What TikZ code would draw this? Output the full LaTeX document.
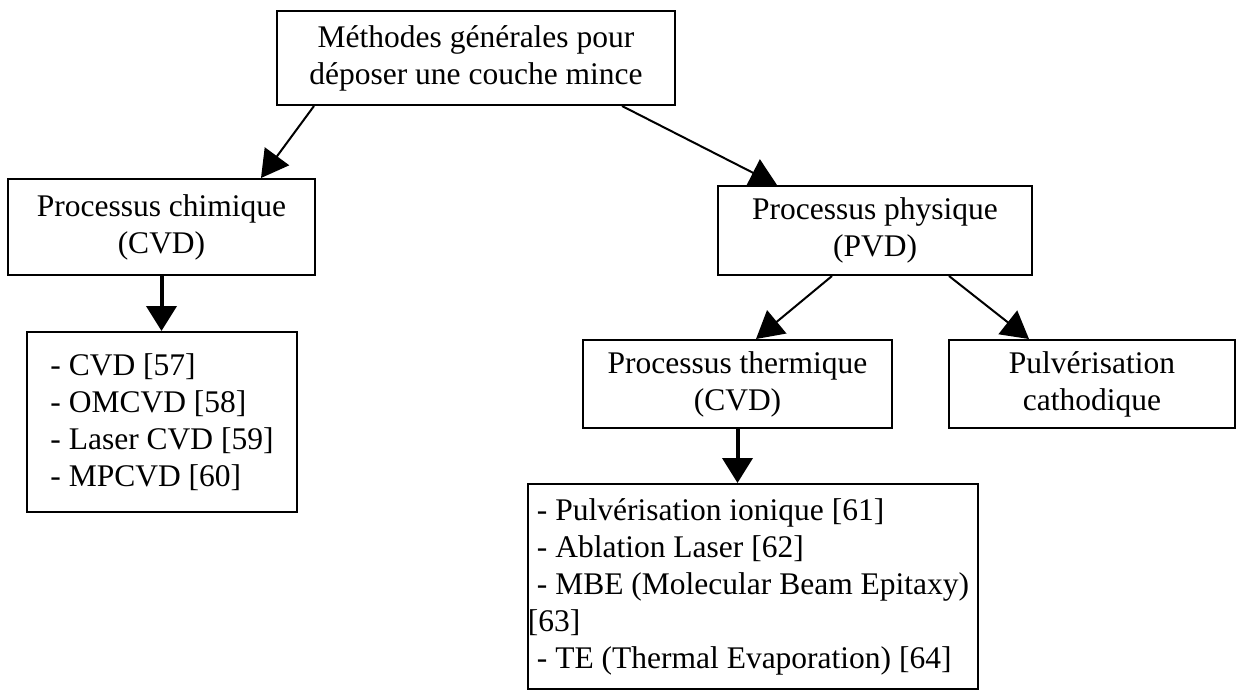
\documentclass[tikz,border=0pt]{standalone}
\usepackage{fontspec}
\setmainfont{Liberation Serif}
\usetikzlibrary{arrows.meta,calc}
\begin{document}
\begin{tikzpicture}[x=1pt,y=-1pt,
  box/.style={draw,line width=2pt,inner sep=0pt,align=center,
    font=\fontsize{31.5}{37}\selectfont},
  listbox/.style={box,align=left},
  thin arrow/.style={line width=2pt,-{Triangle[length=27pt,width=30pt]}},
  thick arrow/.style={line width=4pt,-{Triangle[length=25pt,width=30pt]}}]
\useasboundingbox (0,0) rectangle (1253,691);
\node[box,minimum width=398pt,minimum height=94pt] (top) at (476,58)
  {Méthodes générales pour\\déposer une couche mince};
\node[box,minimum width=307pt,minimum height=96pt] (chim) at (161.5,227)
  {Processus chimique\\(CVD)};
\node[box,minimum width=314pt,minimum height=89pt] (pvd) at (875,230.5)
  {Processus physique\\(PVD)};
\node[listbox,minimum width=270pt,minimum height=180pt] (cvd) at (162,422)
  {- CVD [57]\\- OMCVD [58]\\- Laser CVD [59]\\- MPCVD [60]};
\node[box,minimum width=309pt,minimum height=88pt] (therm) at (737.5,384)
  {Processus thermique\\(CVD)};
\node[box,minimum width=286pt,minimum height=88pt] (pulv) at (1092,384)
  {Pulvérisation\\cathodique};
\node[listbox,minimum width=450pt,minimum height=205pt] (bot) at (753,586.5)
  {- Pulvérisation ionique [61]\\- Ablation Laser [62]\\- MBE (Molecular Beam Epitaxy)\\\hspace*{-9pt}[63]\\- TE (Thermal Evaporation) [64]};
\draw[thin arrow] ([xshift=38pt]top.south west) -- ([xshift=254pt]chim.north west);
\draw[thin arrow] ([xshift=346pt]top.south west) -- ([xshift=60pt]pvd.north west);
\draw[thin arrow] ([xshift=115pt]pvd.south west) -- ([xshift=174pt]therm.north west);
\draw[thin arrow] ([xshift=232pt]pvd.south west) -- ([xshift=81pt]pulv.north west);
\draw[thick arrow] (chim.south) -- (chim.south |- cvd.north);
\draw[thick arrow] (therm.south) -- (therm.south |- bot.north);
\end{tikzpicture}
\end{document}
